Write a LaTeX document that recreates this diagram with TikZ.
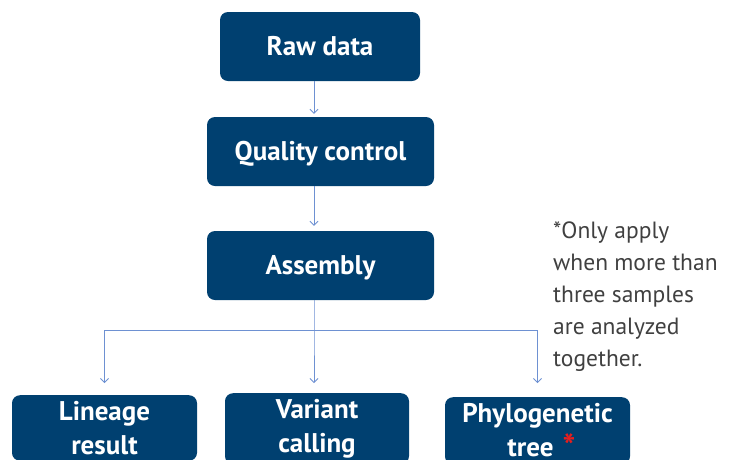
\documentclass[tikz,border=0pt]{standalone}
\usepackage{fontspec}
\setmainfont{PT Sans}
\usetikzlibrary{arrows.meta}
\definecolor{boxblue}{RGB}{0,64,112}
\definecolor{linkblue}{RGB}{110,145,210}
\definecolor{notegray}{RGB}{64,64,64}
\definecolor{starred}{RGB}{230,30,30}
\begin{document}
\begin{tikzpicture}[x=1pt,y=-1pt,
  stepbox/.style={fill=boxblue, rounded corners=8pt, text=white,
    font=\bfseries\fontsize{27}{34}\selectfont, align=center, inner sep=0pt},
  leafbox/.style={stepbox, anchor=north, minimum width=185pt, text width=185pt,
    inner ysep=6pt},
  link/.style={draw=linkblue, line width=0.8pt,
    -{Straight Barb[length=4pt,width=8pt,line width=0.8pt]}},
  note/.style={text=notegray, font=\fontsize{23.5}{32}\selectfont, align=left,
    anchor=north west, inner sep=0pt}]
\useasboundingbox (0,0) rectangle (736,459);
\clip (0,0) rectangle (736,459);

% main pipeline
\node[stepbox, minimum width=200pt, minimum height=69pt, text depth=2pt] (raw) at (320,46.5) {Raw data};
\node[stepbox, minimum width=227pt, minimum height=69pt, text depth=2pt] (qc) at (320.5,151.5) {Quality control};
\node[stepbox, minimum width=227pt, minimum height=69pt, text depth=2pt] (asm) at (320.5,265.5) {Assembly};

% downstream analyses
\node[leafbox] (lin) at (104.5,395) {Lineage\\result};
\node[leafbox, minimum width=184pt, text width=184pt] (var) at (317,393) {Variant\\calling};
\node[leafbox] (phy) at (537.5,397) {Phylogenetic\\\hspace*{8pt}tree {\color{starred}\fontsize{34}{34}\selectfont\raisebox{-2pt}{*}}};

% split point under Assembly
\coordinate (split) at ([xshift=-6.5pt]asm.south |- 0,330);

% connectors
\draw[link, shorten >=3pt] ([xshift=-6pt]raw.south) -- ([xshift=-6.5pt]qc.north);
\draw[link, shorten >=5pt] ([xshift=-6.5pt]qc.south) -- ([xshift=-6.5pt]asm.north);
\draw[link, shorten >=10pt] ([xshift=-6.5pt]asm.south) -- (split) -- ([xshift=-3pt]var.north);
\draw[link, shorten >=12pt] (split) -| (lin.north);
\draw[link, shorten >=14pt] (split) -| (phy.north);

% footnote
\node[note] (fn) at (553,221) {*Only apply\\when more than\\three samples\\are analyzed\\together.};
\end{tikzpicture}
\end{document}
